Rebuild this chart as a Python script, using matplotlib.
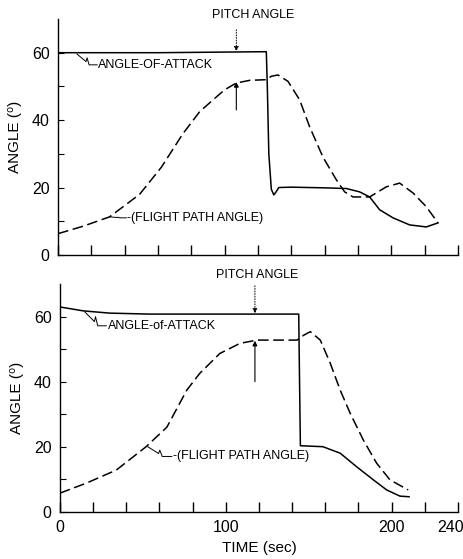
import matplotlib
matplotlib.use("Agg")
import matplotlib.pyplot as plt
from matplotlib.transforms import ScaledTranslation

plt.rcParams['font.family'] = ['Liberation Sans Narrow', 'Liberation Sans', 'DejaVu Sans']

# ---------------- data (top panel) ----------------
top_pitch_t = [0, 60, 125, 125.6, 126.5, 128, 129.5, 131, 132.5, 140, 160, 173, 181, 187, 193, 201, 211, 221, 228]
top_pitch_y = [60, 60, 60.3, 50, 30, 19.5, 17.8, 18.8, 20, 20.1, 19.9, 19.7, 18.7, 17.2, 13.4, 11, 8.9, 8.3, 9.5]
top_fpa_t = [0, 15, 31, 49, 62, 75, 85, 93, 100, 107, 115, 125, 128, 132, 138, 145, 151, 159, 167, 172, 177, 187, 197, 205, 213, 221, 228]
top_fpa_y = [6.3, 8.5, 11.3, 18, 26, 36, 42.5, 46, 49, 51, 51.8, 52, 53, 53.4, 51.5, 46, 38, 29, 22.3, 18.7, 17.2, 17.2, 20.2, 21.3, 18.4, 14.3, 9.5]

# ---------------- data (bottom panel) ----------------
bot_pitch_t = [0, 14, 30, 54, 144, 144.5, 145, 158.6, 169, 179, 189, 197, 205, 210.5]
bot_pitch_y = [63, 61.8, 61.1, 60.8, 60.8, 40, 20.3, 20, 18, 13.8, 9.8, 6.7, 4.8, 4.6]
bot_fpa_t = [0, 16, 34, 52, 64.5, 76.5, 84.4, 96.5, 108.6, 118.8, 143, 147, 151, 157, 163, 169, 175, 183, 191, 199, 210]
bot_fpa_y = [5.7, 8.8, 12.8, 20, 26, 37.4, 42.6, 48.7, 51.8, 52.8, 52.8, 54.3, 55.4, 52.8, 45.7, 37.4, 30.3, 22, 14.9, 9.8, 6.7]

x_ticks = list(range(0, 241, 20))
bot_x_labels = {0: '0', 100: '100', 200: '200', 240: '240'}
y_ticks = list(range(0, 61, 10))
y_labels = {0: '0', 20: '20', 40: '40', 60: '60'}

fig = plt.figure(figsize=(4.64, 5.59), dpi=100)

ax1 = fig.add_axes([0.125, 0.544, 0.862, 0.422])
ax2 = fig.add_axes([0.129, 0.0846, 0.858, 0.407])

dash = (7, 3)
for ax, pt, py, ft, fy in [(ax1, top_pitch_t, top_pitch_y, top_fpa_t, top_fpa_y),
                           (ax2, bot_pitch_t, bot_pitch_y, bot_fpa_t, bot_fpa_y)]:
    ax.plot(pt, py, color='black', lw=1.1)
    ax.plot(ft, fy, color='black', lw=1.1, dashes=dash)
    ax.set_xlim(0, 240)
    ax.set_ylim(0, 70)
    ax.spines['top'].set_visible(False)
    ax.spines['right'].set_visible(False)
    ax.spines['left'].set_linewidth(1.0)
    ax.spines['bottom'].set_linewidth(1.0)
    ax.set_xticks(x_ticks)
    ax.set_yticks(y_ticks)
    ax.set_yticklabels([y_labels.get(v, '') for v in y_ticks])
    ax.tick_params(axis='x', direction='in', length=7, width=1.0, labelsize=11.5, pad=6)
    ax.tick_params(axis='y', direction='in', length=4, width=0.8, labelsize=11.5, pad=6)
    ax.set_ylabel('ANGLE (⁰)', fontsize=11, labelpad=7)

ax1.set_xticklabels(['' for v in x_ticks])
ax2.set_xticklabels([bot_x_labels.get(v, '') for v in x_ticks])
last = ax2.get_xticklabels()[-1]
last.set_ha('right')
last.set_transform(last.get_transform() + ScaledTranslation(6 / 100, 0, fig.dpi_scale_trans))
ax2.set_xlabel('TIME (sec)', fontsize=11, labelpad=4)


def arrows(ax, t, top_from, top_to, up_from, up_to, label_xy):
    ax.annotate('', xy=(t, top_to), xytext=(t, top_from),
                arrowprops=dict(arrowstyle='-|>', color='black', lw=0.7, ls=':',
                                mutation_scale=7, shrinkA=0, shrinkB=0),
                annotation_clip=False)
    ax.annotate('', xy=(t, up_to), xytext=(t, up_from),
                arrowprops=dict(arrowstyle='-|>', color='black', lw=0.8,
                                mutation_scale=7, shrinkA=0, shrinkB=0),
                annotation_clip=False)
    ax.text(label_xy[0], label_xy[1], 'PITCH ANGLE', ha='center', va='center',
            fontsize=9, clip_on=False)


def squiggle(ax, x0, y0, x1, y1):
    dx = x1 - x0
    dy = y1 - y0
    xs = [x0, x0 + 0.45 * dx, x0 + 0.5 * dx, x0 + 0.6 * dx, x1]
    ys = [y0, y0 + 0.7 * dy, y0 + 0.35 * dy, y0 + 1.0 * dy, y1]
    ax.plot(xs, ys, color='black', lw=0.7, clip_on=False)


# top annotations
arrows(ax1, 107, 66.8, 60.4, 43, 51.3, (117, 71.3))
squiggle(ax1, 11.4, 59.6, 23.5, 56.4)
ax1.text(24, 56.4, 'ANGLE-OF-ATTACK', ha='left', va='center', fontsize=9)
squiggle(ax1, 31, 11.3, 41, 11.0)
ax1.text(41.5, 11.0, '-(FLIGHT PATH ANGLE)', ha='left', va='center', fontsize=9)

# bottom annotations
arrows(ax2, 117.6, 69.5, 61.0, 40, 52.6, (118.8, 72.8))
squiggle(ax2, 15, 61.5, 28, 57.2)
ax2.text(29, 57.0, 'ANGLE-of-ATTACK', ha='left', va='center', fontsize=9)
squiggle(ax2, 53, 20, 67.5, 17.0)
ax2.text(68, 17.0, '-(FLIGHT PATH ANGLE)', ha='left', va='center', fontsize=9)

fig.savefig('out.png', dpi=100)
